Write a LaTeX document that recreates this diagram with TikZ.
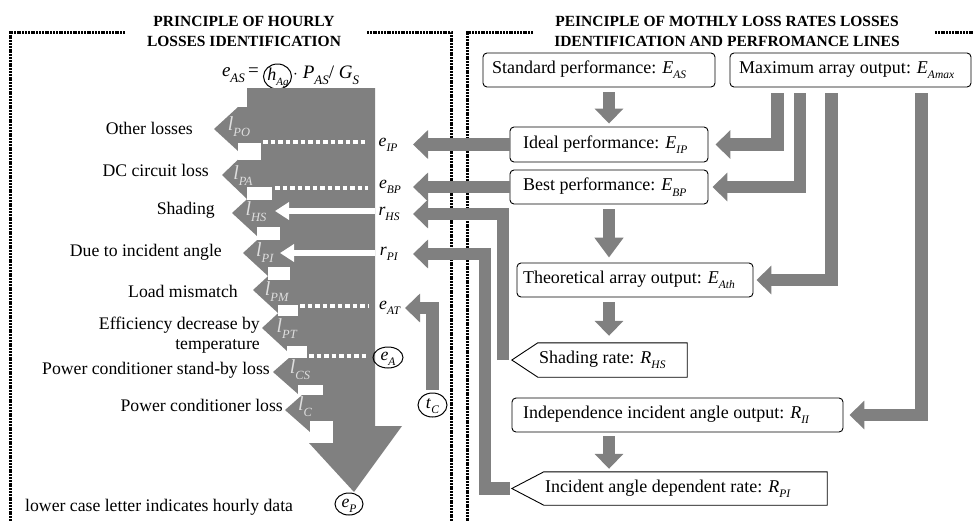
\documentclass[tikz,border=0pt]{standalone}
\usepackage{fontspec}
\setmainfont{Liberation Serif}
\usetikzlibrary{arrows.meta,shapes.geometric,calc}
\definecolor{fg}{RGB}{128,128,128}
\definecolor{lt}{RGB}{222,222,222}
\newcommand{\vsub}[3]{\textit{#1}\raisebox{-0.3em}{\fontsize{#3}{#3}\selectfont\textit{#2}}}
\newcommand{\vv}[2]{\vsub{#1}{#2}{11.5}}
\newcommand{\circtxt}[1]{\makebox[4pt]{\raisebox{-3pt}[0pt][0pt]{#1}}}
\newcommand{\boxtxt}[2]{\makebox[#1][l]{#2}}
\newcommand{\losshead}[5]{\fill[fg] (#1,#2) -- (#3,{#2-#4}) -- (#5,{#2-#4}) -- (#5,{#2+#4}) -- (#3,{#2+#4}) -- cycle;}
\begin{document}
\begin{tikzpicture}[x=1pt,y=-1pt,
  every node/.style={font=\fontsize{17.7}{20}\selectfont, inner sep=0pt},
  ttl/.style={font=\fontsize{15.5}{20}\selectfont\bfseries, align=center},
  dframe/.style={line width=3pt, dash pattern=on 2pt off 0.8pt},
  wdash/.style={white, line width=4pt, dash pattern=on 4.5pt off 3pt},
  warrow/.style={white, line width=6.5pt, -{Triangle[width=17pt,length=14pt]}},
  garrow/.style={fg, line width=12.5pt, -{Triangle[width=28pt,length=15pt]}},
  lbl/.style={text=lt, font=\fontsize{20}{22}\selectfont},
  txt/.style={text height=12pt, text depth=4pt},
  rbox/.style={draw, line width=0.9pt, rounded corners=4pt, font=\fontsize{18}{20}\selectfont},
  pbox/.style={font=\fontsize{18}{20}\selectfont},
  circ/.style={draw, ellipse, line width=1pt, inner sep=0pt}
]
\useasboundingbox (0,0) rectangle (973,520);

% frames
\draw[dframe] (125,32) -- (10,32) -- (10,521);
\draw[dframe] (367,32) -- (451,32) -- (451,521);
\draw[dframe] (533,32) -- (467,32) -- (467,521);
\draw[dframe] (935,32) -- (975,32);

% titles
\node[ttl] (t1) at (244,31) {PRINCIPLE OF HOURLY\\LOSSES IDENTIFICATION};
\node[ttl] (t2) at (727,31) {PEINCIPLE OF MOTHLY LOSS RATES LOSSES\\IDENTIFICATION AND PERFROMANCE LINES};

% formula
\node[anchor=east, font=\fontsize{19}{22}\selectfont] (fl) at (259,75) {\vsub{e}{AS}{13}\,=};
\node[font=\fontsize{18}{22}\selectfont] (hAg) at (278,78) {\vsub{h}{Ag}{11}};
\draw[line width=1pt] (277.5,76.5) ellipse [x radius=14, y radius=12.5];
\node[anchor=west, font=\fontsize{19}{22}\selectfont] (fr) at (293,75) {$\cdot$ \vsub{P}{AS}{13}/ \vsub{G}{S}{13}};

% main flow body
\fill[fg] (247,88) -- (375,88) -- (375,426) -- (402,426) -- (354,492) -- (309,443) -- (333,443) -- (333,421) -- (323,421) -- (323,385) -- (307,385) -- (307,346) -- (298,346) -- (298,305) -- (290,305) -- (290,267) -- (280,267) -- (280,227) -- (272,227) -- (272,187) -- (261,187) -- (261,143) -- (247,143) -- cycle;
\losshead{214}{129}{238}{22}{248}
\losshead{222}{175}{247}{24}{262}
\losshead{232}{213}{257}{23}{273}
\losshead{243}{253}{268}{23}{281}
\losshead{253}{290}{278}{23}{291}
\losshead{262}{328}{287}{23}{299}
\losshead{273}{372}{298}{22}{308}
\losshead{285}{410}{310}{22}{324}

% white notches
\fill[white] (238,143) rectangle (261,160);
\fill[white] (247,187) rectangle (272,200);
\fill[white] (257,227) rectangle (280,240);
\fill[white] (268,267) rectangle (290,280);
\fill[white] (278,305) rectangle (298,316);
\fill[white] (287,346) rectangle (307,358);
\fill[white] (298,385) rectangle (323,395);
\fill[white] (310,421) rectangle (333,443);

% performance lines
\draw[wdash] (263,142) -- (368,142);
\draw[wdash] (275,187.5) -- (368,187.5);
\draw[wdash] (300,306) -- (368,306);
\draw[wdash] (309,355.5) -- (367,355.5);

\coordinate (bodyR) at (375,0);
\coordinate (wHS) at (275,211);
\coordinate (wPI) at (280,253);
\draw[warrow] (wHS -| bodyR) -- (wHS);
\draw[warrow] (wPI -| bodyR) -- (wPI);

% loss labels inside heads
\node[lbl] (lPO) at (239,127) {\vsub{l}{PO}{12.5}};
\node[lbl] (lPA) at (243,176) {\vsub{l}{PA}{12.5}};
\node[lbl] (lHS) at (256,212) {\vsub{l}{HS}{12.5}};
\node[lbl] (lPI) at (265,253) {\vsub{l}{PI}{12.5}};
\node[lbl] (lPM) at (277,292) {\vsub{l}{PM}{12.5}};
\node[lbl] (lPT) at (287,329) {\vsub{l}{PT}{12.5}};
\node[lbl] (lCS) at (300,370) {\vsub{l}{CS}{12.5}};
\node[lbl] (lC) at (305,407) {\vsub{l}{C}{12.5}};

% loss names
\node[txt, anchor=east] (nPO) at (193,130) {Other losses};
\node[txt, anchor=east] (nPA) at (209,172) {DC circuit loss};
\node[txt, anchor=east] (nHS) at (215,210) {Shading};
\node[txt, anchor=east] (nPI) at (222,252) {Due to incident angle};
\node[txt, anchor=east] (nPM) at (238,293) {Load mismatch};
\node[anchor=east, align=right] (nPT) at (260,335) {Efficiency decrease by\\temperature};
\node[txt, anchor=east] (nCS) at (270,370) {Power conditioner stand-by loss};
\node[txt, anchor=east] (nC) at (283,407) {Power conditioner loss};
\node[txt, anchor=west] (note) at (25,507) {lower case letter indicates hourly data};

% hourly data labels
\node (eIP) at (388,145) {\vv{e}{IP}};
\node (eBP) at (390,187) {\vv{e}{BP}};
\node (rHS) at (389,214) {\vv{r}{HS}};
\node (rPI) at (389,254) {\vv{r}{PI}};
\node (eAT) at (390,308) {\vv{e}{AT}};
\node[circ, minimum width=30pt, minimum height=21pt] (eA) at (388,357.5) {\circtxt{\vv{e}{A}}};
\node[circ, minimum width=29pt, minimum height=24pt] (tC) at (432.5,405) {\circtxt{\vv{t}{C}}};
\node[circ, minimum width=28pt, minimum height=22pt] (eP) at (349,504) {\circtxt{\vv{e}{P}}};

% right side boxes
\node[rbox, inner xsep=9pt, minimum height=34pt] (Std) at (599,70) {\boxtxt{214pt}{Standard performance: \vv{E}{AS}}};
\node[rbox, inner xsep=9pt, minimum height=34pt] (Max) at (850.5,70) {\boxtxt{223pt}{Maximum array output: \vv{E}{Amax}}};
\node[rbox, inner xsep=13pt, minimum height=35pt] (Ideal) at (609,144.5) {\boxtxt{172pt}{Ideal performance: \vv{E}{IP}}};
\node[rbox, inner xsep=13pt, minimum height=34pt] (Best) at (609,187) {\boxtxt{172pt}{Best performance: \vv{E}{BP}}};
\node[rbox, inner xsep=6pt, minimum height=34pt] (Theo) at (635,280) {\boxtxt{224pt}{Theoretical array output: \vv{E}{Ath}}};
\node[rbox, inner xsep=11pt, minimum height=34pt] (Indep) at (677.5,415) {\boxtxt{309pt}{Independence incident angle output: \vv{R}{II}}};
\node[pbox, inner xsep=1pt, minimum height=34pt] (SR) at (612.5,360) {\boxtxt{147pt}{Shading rate: \vv{R}{HS}}};
\coordinate (SRtip) at ([xshift=-26pt]SR.west);
\draw[line width=0.9pt] (SRtip) -- (SR.north west) -- (SR.north east) -- (SR.south east) -- (SR.south west) -- cycle;
\node[pbox, inner xsep=1pt, minimum height=33pt] (IR) at (685.5,488.5) {\boxtxt{281pt}{Incident angle dependent rate: \vv{R}{PI}}};
\coordinate (IRtip) at ([xshift=-32pt]IR.west);
\draw[line width=0.9pt] (IRtip) -- (IR.north west) -- (IR.north east) -- (IR.south east) -- (IR.south west) -- cycle;

% down arrows
\coordinate (dcol) at (609,0);
\draw[garrow, shorten <=5pt, shorten >=3pt] (Std.south -| Ideal.north) -- (Ideal.north);
\draw[garrow, shorten <=5pt, shorten >=5pt, -{Triangle[width=28pt,length=20pt]}] (Best.south) -- (Theo.north -| Best.south);
\draw[garrow, shorten <=5pt, shorten >=7pt] (Theo.south -| dcol) -- (SR.north -| dcol);
\draw[garrow, shorten <=4pt, shorten >=3pt] (Indep.south -| dcol) -- (IR.north -| dcol);

% maximum array output arrows
\coordinate (v1) at (777.5,93);
\coordinate (v2) at (800,93);
\coordinate (v3) at (831.5,93);
\coordinate (v4) at (921.5,93);
\draw[garrow, shorten >=7pt] (v1) |- (Ideal.east);
\draw[garrow, shorten >=4pt] (v2) |- (Best.east);
\draw[garrow, shorten >=3pt] (v3) |- (Theo.east);
\draw[garrow, shorten >=6pt] (v4) |- (Indep.east);

% arrows to the hourly panel
\coordinate (tipL) at (413,0);
\draw[garrow] (Ideal.west) -- (Ideal.west -| tipL);
\draw[garrow] (Best.west) -- (Best.west -| tipL);
\draw[garrow] ([xshift=-9pt]SRtip) |- (rHS -| tipL);
\draw[garrow, shorten <=2pt] (IRtip) -- ++(-27pt,0) |- (rPI -| tipL);
\coordinate (tipAT) at (405,0);
\draw[garrow, shorten <=3pt] (tC.north) |- (eAT -| tipAT);
\end{tikzpicture}
\end{document}
